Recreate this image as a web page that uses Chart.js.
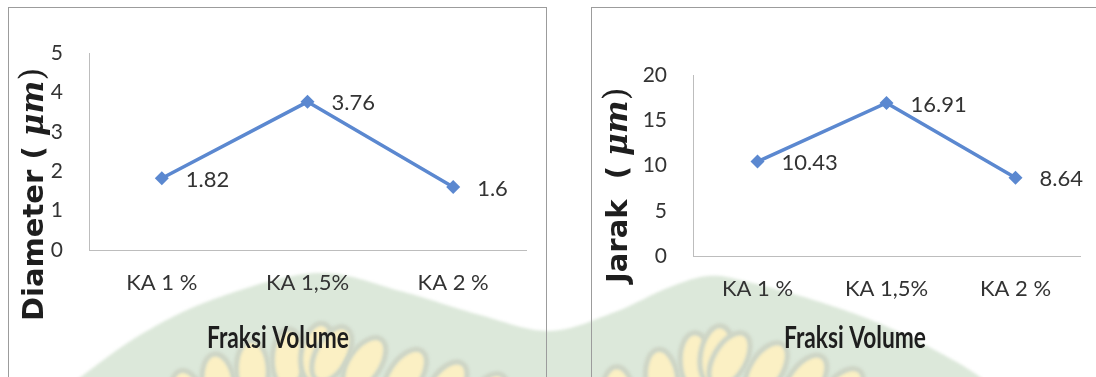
<!DOCTYPE html>
<html>
<head>
<meta charset="utf-8">
<script src="https://cdn.jsdelivr.net/npm/chart.js@4"></script>
<style>
  html, body { margin: 0; padding: 0; background: #fff; }
  body { width: 1096px; height: 377px; position: relative; overflow: hidden; }
  #wm { position: absolute; left: 0; top: 0; }
  .frame { position: absolute; border: 1px solid #9c9c9c; box-sizing: border-box; }
  #frameL { left: 8px; top: 7px; width: 539px; height: 420px; }
  #frameR { left: 591px; top: 7px; width: 540px; height: 420px; }
  .plot { position: absolute; }
  #boxL { left: 9px; top: 8px; width: 536px; height: 369px; }
  #boxR { left: 592px; top: 8px; width: 504px; height: 369px; }
</style>
</head>
<body>
<canvas id="wm" width="1096" height="377"></canvas>
<div class="frame" id="frameL"></div>
<div class="frame" id="frameR"></div>
<div class="plot" id="boxL"><canvas id="chartL"></canvas></div>
<div class="plot" id="boxR"><canvas id="chartR"></canvas></div>
<script>
// Categories (volume fraction) and measured values
const categories = ['KA 1 %', 'KA 1,5%', 'KA 2 %'];
const diameterValues = [1.82, 3.76, 1.6];
const jarakValues = [10.43, 16.91, 8.64];

// Value axis ranges and tick steps
const diameterRange = [0, 5];
const diameterStep = 1;
const jarakRange = [0, 20];
const jarakStep = 5;

const LINE_BLUE = '#5B88D0';
const TEXT_GREY = '#333333';
const AXIS_GREY = '#bdbdbd';

// Faint campus emblem behind both panels
(function drawEmblem() {
  const c = document.getElementById('wm').getContext('2d');
  const ridge = [[70,385],[140,335],[217,298],[317,273],[400,291],[480,315],[550,331],
                 [615,312],[665,289],[708,276],[748,282],[823,303],[890,328],[960,364],[1000,392]];
  // Catmull-Rom sampling of the ridge line
  const pts = [];
  for (let i = 0; i < ridge.length - 1; i++) {
    const p0 = ridge[Math.max(i - 1, 0)], p1 = ridge[i], p2 = ridge[i + 1], p3 = ridge[Math.min(i + 2, ridge.length - 1)];
    for (let k = 0; k < 20; k++) {
      const t = k / 20, t2 = t * t, t3 = t2 * t;
      const f = (a, b, cc, d) => 0.5 * ((2 * b) + (-a + cc) * t + (2 * a - 5 * b + 4 * cc - d) * t2 + (-a + 3 * b - 3 * cc + d) * t3);
      pts.push([f(p0[0], p1[0], p2[0], p3[0]), f(p0[1], p1[1], p2[1], p3[1])]);
    }
  }
  pts.push(ridge[ridge.length - 1]);
  c.filter = 'blur(1.5px)';
  c.beginPath();
  c.moveTo(pts[0][0], pts[0][1]);
  pts.forEach(p => c.lineTo(p[0], p[1]));
  c.lineTo(1000, 400); c.lineTo(70, 400); c.closePath();
  c.fillStyle = '#dce8da';
  c.fill();
  // grains along the band
  let acc = 0, next = 10;
  for (let i = 1; i < pts.length; i++) {
    const dx = pts[i][0] - pts[i - 1][0], dy = pts[i][1] - pts[i - 1][1];
    const seg = Math.hypot(dx, dy);
    acc += seg;
    if (acc >= next) {
      next += 42;
      const tx = dx / seg, ty = dy / seg;
      const nx = -ty, ny = tx;
      const cx = pts[i][0] + nx * 80, cy = pts[i][1] + ny * 80;
      if (cy - 30 > 377) continue;
      c.beginPath();
      c.ellipse(cx, cy, 30, 16, Math.atan2(ny, nx) + 0.3, 0, Math.PI * 2);
      c.fillStyle = '#fbf0c4';
      c.fill();
      c.lineWidth = 5;
      c.strokeStyle = '#ccd4c6';
      c.stroke();
    }
  }
})();

// Data value labels placed to the right of each marker
const valueLabels = {
  id: 'valueLabels',
  afterDatasetsDraw(chart) {
    const ctx = chart.ctx;
    const ds = chart.data.datasets[0];
    const meta = chart.getDatasetMeta(0);
    ctx.save();
    ctx.font = '22px Lato';
    ctx.fillStyle = TEXT_GREY;
    ctx.textAlign = 'left';
    ctx.textBaseline = 'middle';
    meta.data.forEach((pt, i) => {
      ctx.fillText(String(ds.data[i]), pt.x + 24, pt.y + 1.5);
    });
    ctx.restore();
  }
};

// Axis titles: rotated mixed-font value title and condensed category title
const axisTitles = {
  id: 'axisTitles',
  afterDraw(chart, args, opts) {
    const ctx = chart.ctx;
    ctx.save();
    ctx.fillStyle = '#1e1e1e';
    ctx.textBaseline = 'alphabetic';
    ctx.textAlign = 'left';
    const y = opts.yTitle;
    ctx.save();
    ctx.translate(y.baseX, y.startY);
    ctx.rotate(-Math.PI / 2);
    let x = 0;
    for (const run of y.runs) {
      ctx.font = run.font;
      ctx.fillText(run.text, x, 0);
      x += ctx.measureText(run.text).width;
    }
    ctx.restore();
    const t = opts.xTitle;
    ctx.font = 'bold 30px Lato';
    const w = ctx.measureText(t.text).width;
    ctx.translate(t.cx, t.baseline);
    ctx.scale(t.width / w, 1);
    ctx.textAlign = 'center';
    ctx.fillText(t.text, 0, 0);
    ctx.restore();
  }
};

function makeChart(id, values, range, step, geo, yRuns) {
  return new Chart(document.getElementById(id), {
    type: 'line',
    data: {
      labels: categories,
      datasets: [{
        data: values,
        borderColor: LINE_BLUE,
        backgroundColor: LINE_BLUE,
        borderWidth: 3.5,
        pointStyle: 'rectRot',
        pointRadius: 7,
        pointHoverRadius: 7,
        pointBorderWidth: 0,
        tension: 0
      }]
    },
    options: {
      responsive: true,
      maintainAspectRatio: false,
      animation: false,
      events: [],
      layout: { autoPadding: false, padding: { top: geo.top, right: geo.right, left: 0, bottom: 0 } },
      scales: {
        x: {
          offset: true,
          grid: { display: false, drawTicks: false },
          border: { display: true, color: AXIS_GREY, width: 1 },
          ticks: { font: { family: 'Lato', size: 22 }, color: TEXT_GREY, padding: 20, maxRotation: 0 },
          afterFit(scale) { scale.height = geo.xHeight; }
        },
        y: {
          min: range[0],
          max: range[1],
          grid: { display: false, drawTicks: false },
          border: { display: true, color: AXIS_GREY, width: 1 },
          ticks: { stepSize: step, font: { family: 'Lato', size: 21 }, color: TEXT_GREY, padding: 26 },
          afterFit(scale) { scale.width = geo.yWidth; }
        }
      },
      plugins: {
        legend: { display: false },
        tooltip: { enabled: false },
        axisTitles: {
          yTitle: { baseX: geo.titleX, startY: geo.titleStart, runs: yRuns },
          xTitle: { text: 'Fraksi Volume', cx: geo.xTitleCx, baseline: 340, width: 142 }
        }
      }
    },
    plugins: [valueLabels, axisTitles]
  });
}

makeChart('chartL', diameterValues, diameterRange, diameterStep,
  { top: 45, right: 19, xHeight: 127, yWidth: 80, titleX: 34, titleStart: 313, xTitleCx: 269 },
  [
    { text: 'Diameter ( ', font: 'bold 29px "DejaVu Sans"' },
    { text: 'μm', font: 'bold italic 31px "DejaVu Serif"' },
    { text: ')', font: '34px "DejaVu Serif"' }
  ]);

makeChart('chartR', jarakValues, jarakRange, jarakStep,
  { top: 67, right: 16, xHeight: 121, yWidth: 101, titleX: 35, titleStart: 275, xTitleCx: 263 },
  [
    { text: 'Jarak  ( ', font: 'bold 29px "DejaVu Sans"' },
    { text: 'μm', font: 'bold italic 31px "DejaVu Serif"' },
    { text: ')', font: '34px "DejaVu Serif"' }
  ]);
</script>
</body>
</html>
